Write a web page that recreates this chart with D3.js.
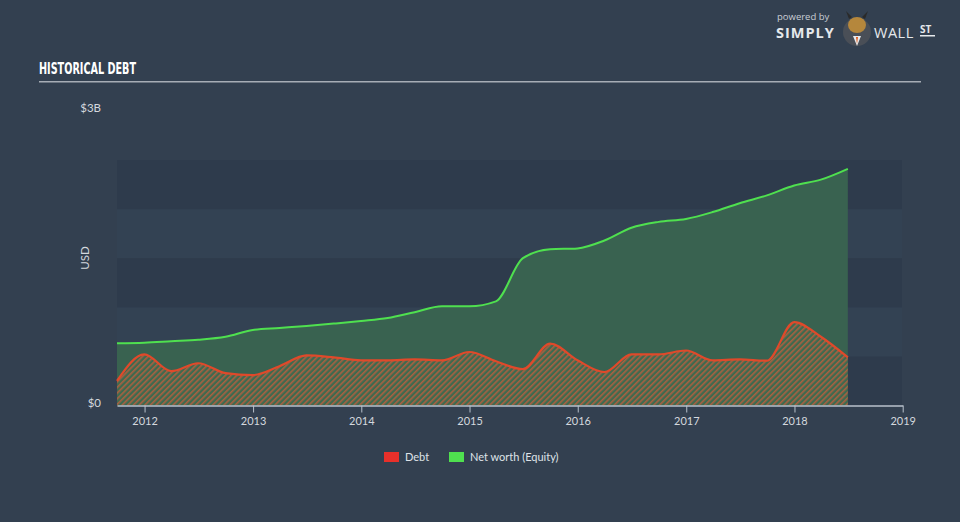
<!DOCTYPE html>
<html><head><meta charset="utf-8">
<script src="https://cdn.jsdelivr.net/npm/d3@7"></script>
<style>
html,body{margin:0;padding:0;background:#334050;}
svg{display:block;}
</style></head>
<body>
<svg id="chart" width="960" height="522"></svg>
<script>
// ---- data (billions USD), quarterly ----
const dates = ["2011-09-30","2011-12-31","2012-03-31","2012-06-30","2012-09-30","2012-12-31",
"2013-03-31","2013-06-30","2013-09-30","2013-12-31","2014-03-31","2014-06-30","2014-09-30","2014-12-31",
"2015-03-31","2015-06-30","2015-09-30","2015-12-31","2016-03-31","2016-06-30","2016-09-30","2016-12-31",
"2017-03-31","2017-06-30","2017-09-30","2017-12-31","2018-03-31","2018-06-30"];
const equity = [0.633,0.64,0.655,0.67,0.70,0.77,0.79,0.81,0.834,0.86,0.89,0.95,1.01,1.01,
1.06,1.50,1.59,1.60,1.68,1.81,1.87,1.90,1.97,2.06,2.14,2.24,2.30,2.41];
const debt = [0.25,0.52,0.35,0.43,0.33,0.31,0.40,0.51,0.49,0.46,0.46,0.47,0.46,0.545,
0.45,0.37,0.63,0.46,0.34,0.52,0.52,0.56,0.46,0.47,0.456,0.85,0.70,0.49];
const yearTicks = [2012,2013,2014,2015,2016,2017,2018,2019];
const yLabels = [{v:0,t:"$0"},{v:3,t:"$3B"}];
const bandSteps = [0,0.5,1,1.5,2];
const legendItems = [{name:"Debt",color:"#e8302a"},{name:"Net worth (Equity)",color:"#4fe04f"}];

const parse = d3.timeParse("%Y-%m-%d");
const dd = dates.map(parse);
const svg = d3.select("#chart");

const x = d3.scaleTime().domain([parse("2011-09-30"), new Date(2019,0,1)]).range([117,902.7]);
const y = d3.scaleLinear().domain([0,2.5]).range([405.5,160]);

// background bands
svg.selectAll("rect.band").data(bandSteps).enter().append("rect")
  .attr("x",117).attr("width",902-117)
  .attr("y",d=>y(d+0.5)).attr("height",d=>y(d)-y(d+0.5))
  .attr("fill",(d,i)=> i%2===0 ? "#2e3b4c" : "#334253");

// pattern
const defs = svg.append("defs");
const pat = defs.append("pattern").attr("id","hatch").attr("patternUnits","userSpaceOnUse")
  .attr("width",4).attr("height",4).attr("patternTransform","rotate(-45)");
pat.append("rect").attr("width",4).attr("height",4).attr("fill","#3f6b4f");
pat.append("rect").attr("width",4).attr("height",1.6).attr("fill","#b8603f");

const pts = dd.map((d,i)=>({d, e:equity[i], b:debt[i]}));
const curve = d3.curveMonotoneX;

svg.append("path").datum(pts)
  .attr("d", d3.area().x(p=>x(p.d)).y0(y(0)).y1(p=>y(p.e)).curve(curve))
  .attr("fill","#3a6450").attr("opacity",0.95);
svg.append("path").datum(pts)
  .attr("d", d3.line().x(p=>x(p.d)).y(p=>y(p.e)).curve(curve))
  .attr("fill","none").attr("stroke","#4fe04f").attr("stroke-width",2);

svg.append("path").datum(pts)
  .attr("d", d3.area().x(p=>x(p.d)).y0(y(0)).y1(p=>y(p.b)).curve(curve))
  .attr("fill","url(#hatch)").attr("opacity",0.9);
svg.append("path").datum(pts)
  .attr("d", d3.line().x(p=>x(p.d)).y(p=>y(p.b)).curve(curve))
  .attr("fill","none").attr("stroke","#e0492a").attr("stroke-width",2.2);

// x axis
const xAxis = d3.axisBottom(x).tickValues(yearTicks.map(t=>new Date(t,0,1)))
  .tickFormat(d3.timeFormat("%Y")).tickSize(7).tickSizeOuter(0);
const gx = svg.append("g").attr("transform","translate(0,405.5)").call(xAxis);
gx.select(".domain").attr("stroke","#b8c0cb").attr("stroke-width",1.5);
gx.selectAll(".tick line").attr("stroke","#b8c0cb");
gx.selectAll(".tick text").attr("fill","#d4d8de").attr("font-family","Lato, 'Open Sans', sans-serif")
  .attr("font-size",11).attr("dy","0.9em");

// y labels
svg.selectAll("text.ylab").data(yLabels).enter().append("text")
  .attr("x",101).attr("y",d=>d.v===0? 407 : 112)
  .attr("text-anchor","end").attr("fill","#d4d8de")
  .attr("font-family","Lato, 'Open Sans', sans-serif").attr("font-size",11.5).text(d=>d.t);
svg.append("text").attr("transform","translate(89,258) rotate(-90)").attr("text-anchor","middle")
  .attr("fill","#d4d8de").attr("font-family","Lato, 'Open Sans', sans-serif").attr("font-size",11.5).text("USD");

// title
svg.append("text").attr("x",39).attr("y",74).attr("fill","#ffffff")
  .attr("font-family","'DejaVu Sans Condensed', 'DejaVu Sans', sans-serif")
  .attr("font-weight","bold").attr("font-size",16.5)
  .attr("textLength",97).attr("lengthAdjust","spacingAndGlyphs").text("HISTORICAL DEBT");
svg.append("rect").attr("x",39).attr("y",81).attr("width",882).attr("height",1.5).attr("fill","#a7adb6");

// legend
const lg = svg.append("g");
const lx = [384,449];
legendItems.forEach((it,i)=>{
  lg.append("rect").attr("x",lx[i]).attr("y",452).attr("width",15).attr("height",10).attr("fill",it.color);
  lg.append("text").attr("x",lx[i]+21).attr("y",461).attr("fill","#dfe3e8")
    .attr("font-family","Lato, 'Open Sans', sans-serif").attr("font-size",11).text(it.name);
});

// logo
const logo = svg.append("g");
logo.append("text").attr("x",777).attr("y",20).attr("fill","#c9ced5")
  .attr("font-family","'Open Sans', sans-serif").attr("font-size",9.5).text("powered by");
logo.append("text").attr("x",776).attr("y",38).attr("fill","#e6e9ec")
  .attr("font-family","'Open Sans', sans-serif").attr("font-weight","bold").attr("font-size",14.5).attr("letter-spacing",1).text("SIMPLY");
logo.append("circle").attr("cx",857).attr("cy",32).attr("r",14).attr("fill","#4a4f57");
logo.append("ellipse").attr("cx",857).attr("cy",25).attr("rx",9).attr("ry",8).attr("fill","#b5873c");
logo.append("path").attr("d","M849 19 L846 11 L852 17 Z M865 19 L868 11 L862 17 Z").attr("fill","#2a2a2a");
logo.append("path").attr("d","M853 36 L857 46 L861 36 Z").attr("fill","#e6e9ec");
logo.append("path").attr("d","M856 37 L857 44 L858 37 Z").attr("fill","#e05a1a");
logo.append("text").attr("x",874).attr("y",38).attr("fill","#e6e9ec")
  .attr("font-family","'Open Sans', sans-serif").attr("font-size",14.5).attr("letter-spacing",0.5).text("WALL");
logo.append("text").attr("x",920).attr("y",33).attr("fill","#e6e9ec")
  .attr("font-family","'Open Sans', sans-serif").attr("font-weight","bold").attr("font-size",10).text("ST");
logo.append("rect").attr("x",920).attr("y",35).attr("width",15).attr("height",1.5).attr("fill","#e6e9ec");
</script>
</body></html>
